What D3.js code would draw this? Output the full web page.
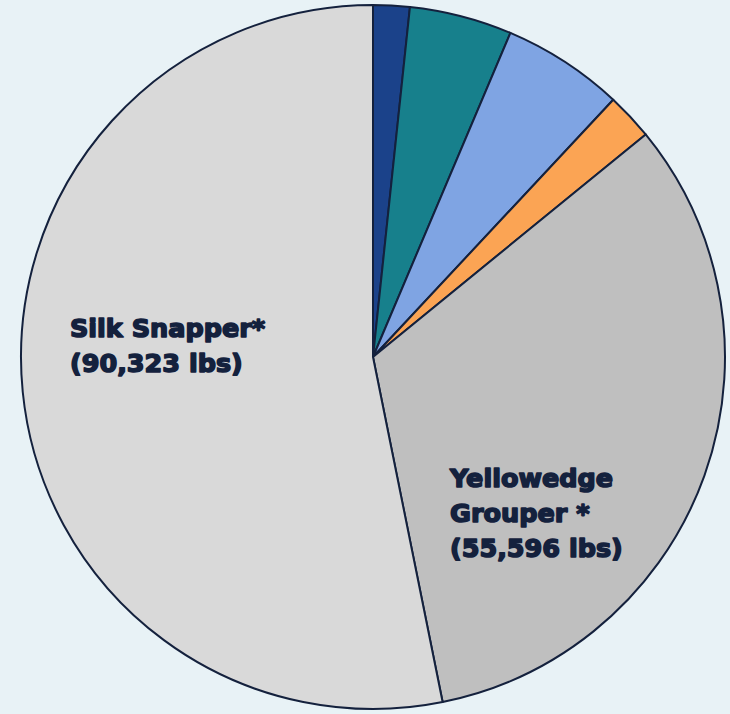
<!DOCTYPE html>
<html><head><meta charset="utf-8">
<script src="https://cdn.jsdelivr.net/npm/d3@7"></script>
<style>html,body{margin:0;padding:0;background:#e8f2f6;}svg{display:block;}</style>
</head><body>
<svg id="c" width="730" height="714"></svg>
<script>
const categories = ["Species A", "Species B", "Species C", "Species D", "Yellowedge Grouper *", "Silk Snapper*"];
const values = [2845, 7998, 9466, 3652, 55596, 90323];
const colors = ["#1b428a", "#17808c", "#7fa4e3", "#fba454", "#bfbfbf", "#d9d9d9"];
const labels = [null, null, null, null, ["Yellowedge", "Grouper *", "(55,596 lbs)"], ["Silk Snapper*", "(90,323 lbs)"]];
const labelPos = [null, null, null, null, [450, 487], [70, 337]];

const svg = d3.select("#c");
const cx = 373, cy = 357, R = 352;
const g = svg.append("g").attr("transform", `translate(${cx},${cy})`);
const pie = d3.pie().sort(null).value(d => d)(values);
const arc = d3.arc().innerRadius(0).outerRadius(R);
g.selectAll("path").data(pie).join("path")
  .attr("d", arc).attr("fill", (d, i) => colors[i])
  .attr("stroke", "#14213d").attr("stroke-width", 2).attr("stroke-linejoin", "round");

labels.forEach((l, i) => {
  if (!l) return;
  const t = svg.append("text").attr("x", labelPos[i][0]).attr("y", labelPos[i][1])
    .attr("font-family", "DejaVu Sans, sans-serif").attr("font-weight", 700)
    .attr("font-size", 25.5).attr("fill", "#14213d")
    .attr("stroke", "#14213d").attr("stroke-width", 1.6).attr("stroke-linejoin", "round");
  l.forEach((s, j) => t.append("tspan").attr("x", labelPos[i][0]).attr("dy", j ? 35 : 0).text(s));
});
</script>
</body></html>
